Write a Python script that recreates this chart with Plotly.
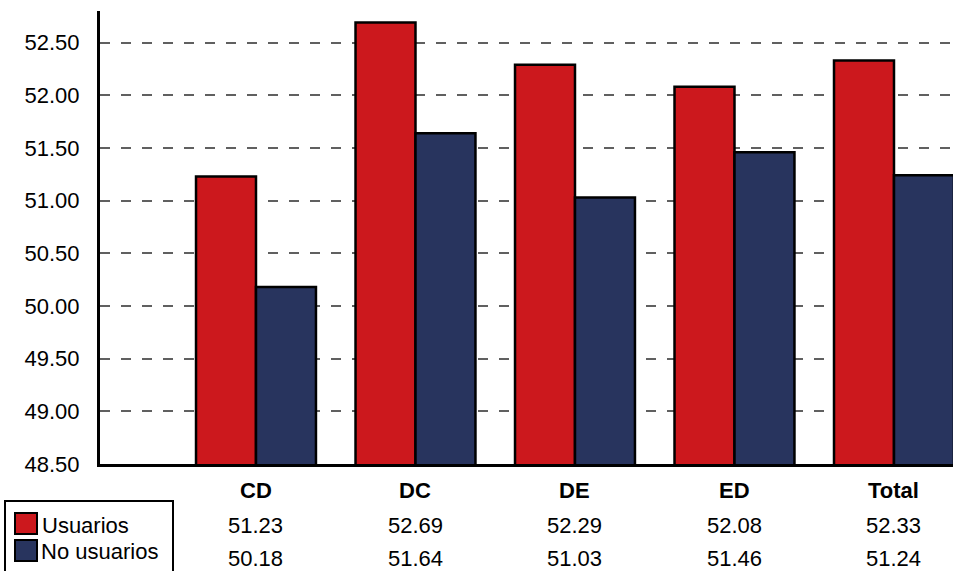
import plotly.graph_objects as go

categories = ["CD", "DC", "DE", "ED", "Total"]
usuarios = [51.23, 52.69, 52.29, 52.08, 52.33]
no_usuarios = [50.18, 51.64, 51.03, 51.46, 51.24]
y_ticks = [48.5, 49.0, 49.5, 50.0, 50.5, 51.0, 51.5, 52.0, 52.5]
series_names = ["Usuarios", "No usuarios"]

RED = "#CC181D"
NAVY = "#28345E"
FONT = "Liberation Sans, Arial, sans-serif"
FS = 22

W, H = 953, 571
L, R_PX, T, B = 100, 953, 11, 464


def px_y(p):
    return (B - p) / (B - T)


def px_x(p):
    return (p - L) / (R_PX - L)


xpos = list(range(len(categories)))

fig = go.Figure()
fig.add_trace(go.Bar(x=xpos, y=usuarios, name=series_names[0],
                     marker=dict(color=RED, line=dict(color="black", width=2.5))))
fig.add_trace(go.Bar(x=xpos, y=no_usuarios, name=series_names[1],
                     marker=dict(color=NAVY, line=dict(color="black", width=2.5))))

annotations = []
for i, c in enumerate(categories):
    annotations.append(dict(x=i, xref="x", y=px_y(490), yref="paper", text=f"<b>{c}</b>",
                            showarrow=False, xanchor="center", yanchor="middle",
                            font=dict(family=FONT, size=FS, color="black")))
    annotations.append(dict(x=i, xref="x", y=px_y(525), yref="paper", text=f"{usuarios[i]:.2f}",
                            showarrow=False, xanchor="center", yanchor="middle",
                            font=dict(family=FONT, size=FS, color="black")))
    annotations.append(dict(x=i, xref="x", y=px_y(558), yref="paper", text=f"{no_usuarios[i]:.2f}",
                            showarrow=False, xanchor="center", yanchor="middle",
                            font=dict(family=FONT, size=FS, color="black")))

annotations.append(dict(x=px_x(40), xref="paper", y=px_y(525), yref="paper", text=series_names[0],
                        showarrow=False, xanchor="left", yanchor="middle",
                        font=dict(family=FONT, size=FS, color="black")))
annotations.append(dict(x=px_x(39), xref="paper", y=px_y(551), yref="paper", text=series_names[1],
                        showarrow=False, xanchor="left", yanchor="middle",
                        font=dict(family=FONT, size=FS, color="black")))

shapes = [
    dict(type="rect", xref="paper", yref="paper", x0=px_x(5), x1=px_x(173),
         y0=px_y(501), y1=px_y(590), line=dict(color="black", width=2), fillcolor="rgba(0,0,0,0)"),
    dict(type="rect", xref="paper", yref="paper", x0=px_x(15), x1=px_x(37),
         y0=px_y(513), y1=px_y(534), line=dict(color="black", width=2), fillcolor=RED),
    dict(type="rect", xref="paper", yref="paper", x0=px_x(15), x1=px_x(37),
         y0=px_y(540), y1=px_y(561), line=dict(color="black", width=2), fillcolor=NAVY),
]

fig.update_layout(
    width=W, height=H,
    margin=dict(l=L, r=W - R_PX, t=T, b=H - B, pad=0),
    paper_bgcolor="white", plot_bgcolor="white",
    barmode="group", bargap=0.248, bargroupgap=0,
    showlegend=False,
    font=dict(family=FONT, size=FS, color="black"),
    annotations=annotations,
    shapes=shapes,
)
fig.update_xaxes(range=[-0.978, 4.37], showticklabels=False, showgrid=False, zeroline=False,
                 showline=True, linecolor="black", linewidth=3, ticks="")
fig.update_yaxes(range=[48.5, 52.8], tickvals=y_ticks, tickformat=".2f",
                 showgrid=True, gridcolor="#606060", gridwidth=2, griddash="10px,11px",
                 zeroline=False, showline=True, linecolor="black", linewidth=3, ticks="",
                 ticklabelstandoff=13, tickfont=dict(family=FONT, size=FS, color="black"))

fig.write_html("out.html", config={"displayModeBar": False},
               post_script="document.body.style.margin='0';document.body.style.overflow='hidden';")
